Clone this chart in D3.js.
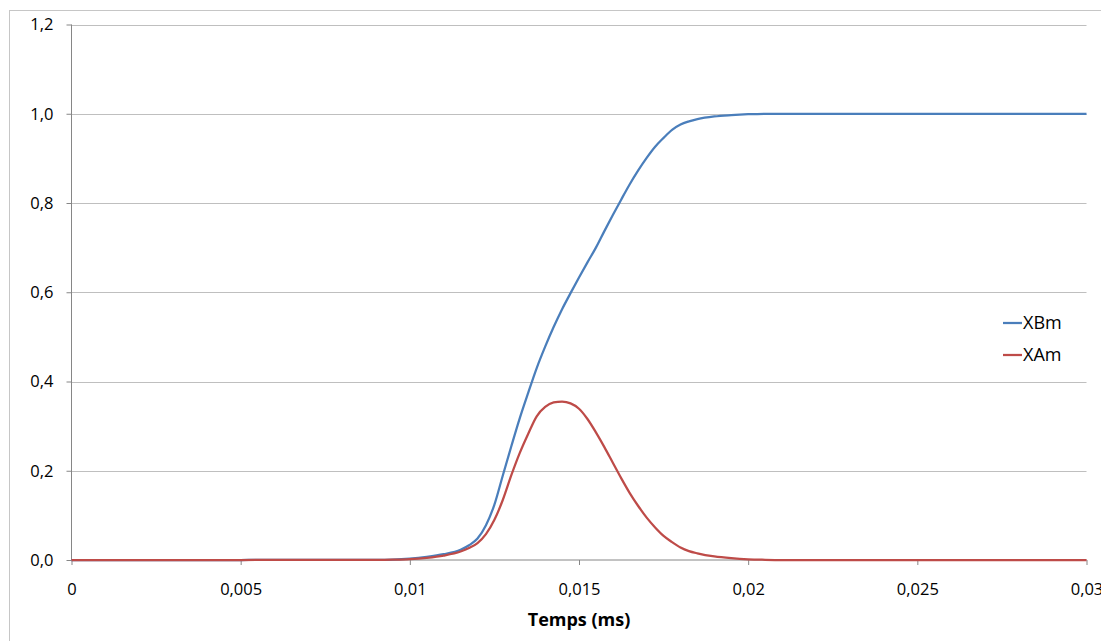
<!DOCTYPE html>
<html><head><meta charset="utf-8">
<script src="https://cdn.jsdelivr.net/npm/d3@7"></script>
<style>
html,body{margin:0;padding:0;background:#fff;overflow:hidden;}
text{font-family:"Open Sans",Lato,sans-serif;fill:#000;}
</style></head>
<body>
<svg id="chart" width="1101" height="641"></svg>
<script>
// Time (ms)
const times = [0, 0.005, 0.009, 0.0095, 0.010, 0.0105, 0.011, 0.0115, 0.01175, 0.012, 0.01225, 0.0125, 0.01275, 0.013, 0.01325, 0.0135, 0.01375, 0.014, 0.01425, 0.0145, 0.01475, 0.015, 0.01525, 0.0155, 0.01575, 0.016, 0.01625, 0.0165, 0.01675, 0.017, 0.01725, 0.0175, 0.01775, 0.018, 0.01825, 0.0185, 0.019, 0.0195, 0.020, 0.0205, 0.021, 0.025, 0.03];
const xBm = [0, 0, 0.0005, 0.001, 0.003, 0.007, 0.013, 0.023, 0.033, 0.048, 0.078, 0.124, 0.190, 0.255, 0.318, 0.375, 0.430, 0.478, 0.522, 0.562, 0.598, 0.633, 0.667, 0.700, 0.737, 0.773, 0.808, 0.842, 0.873, 0.901, 0.926, 0.946, 0.964, 0.976, 0.983, 0.988, 0.994, 0.997, 0.999, 1.0, 1.0, 1.0, 1.0];
const xAm = [0, 0, 0.0003, 0.0008, 0.002, 0.005, 0.010, 0.019, 0.027, 0.038, 0.058, 0.090, 0.135, 0.190, 0.240, 0.283, 0.322, 0.343, 0.353, 0.355, 0.351, 0.339, 0.316, 0.286, 0.253, 0.218, 0.183, 0.150, 0.121, 0.095, 0.073, 0.054, 0.040, 0.028, 0.020, 0.015, 0.008, 0.004, 0.0015, 0.0005, 0, 0, 0];
const seriesNames = ["XBm", "XAm"];
const seriesColors = ["#4a7ebb", "#be4b48"];
const xTicks = [0, 0.005, 0.01, 0.015, 0.02, 0.025, 0.03];
const xTickLabels = ["0", "0,005", "0,01", "0,015", "0,02", "0,025", "0,03"];
const yTicks = [0, 0.2, 0.4, 0.6, 0.8, 1.0, 1.2];
const yTickLabels = ["0,0", "0,2", "0,4", "0,6", "0,8", "1,0", "1,2"];
const xTitle = "Temps (ms)";

const svg = d3.select("#chart");
const L = 71.5, R = 1086.5, T = 24.5, B = 560;
const x = d3.scaleLinear().domain([0, 0.03]).range([L, R]);
const y = d3.scaleLinear().domain([0, 1.2]).range([B, T]);

// outer border
svg.append("rect").attr("x", 9.5).attr("y", 10.5).attr("width", 1200).attr("height", 1000)
  .attr("fill", "none").attr("stroke", "#c6c6c6").attr("stroke-width", 1);

// gridlines
svg.append("g").selectAll("line").data(yTicks.filter(d => d > 0)).join("line")
  .attr("x1", L).attr("x2", R)
  .attr("y1", d => Math.round(y(d)) + 0.5).attr("y2", d => Math.round(y(d)) + 0.5)
  .attr("stroke", "#bfbfbf").attr("stroke-width", 1);

// y axis
const yAxis = d3.axisLeft(y).tickValues(yTicks).tickFormat((d, i) => yTickLabels[i]).tickSize(5).tickPadding(13);
const gy = svg.append("g").attr("transform", `translate(${L},0)`).call(yAxis);
gy.select(".domain").attr("stroke", "#868686").attr("d", `M0,${T}V${B}`);
gy.selectAll(".tick line").attr("stroke", "#868686");
gy.selectAll(".tick text").attr("font-size", 16.5).attr("font-family", "Open Sans").attr("fill", "#000");

// x axis
const xAxis = d3.axisBottom(x).tickValues(xTicks).tickFormat((d, i) => xTickLabels[i]).tickSize(5).tickPadding(18);
const gx = svg.append("g").attr("transform", `translate(0,${B})`).call(xAxis);
gx.select(".domain").attr("stroke", "#868686").attr("d", `M${L},0H${R}`);
gx.selectAll(".tick line").attr("stroke", "#868686");
gx.selectAll(".tick text").attr("font-size", 16.5).attr("font-family", "Open Sans").attr("fill", "#000");

// x title
svg.append("text").attr("x", (L + R) / 2).attr("y", 626).attr("text-anchor", "middle")
  .attr("font-size", 18).attr("font-weight", "bold").text(xTitle);

// lines
const line = d3.line().x(d => x(d[0])).y(d => y(d[1])).curve(d3.curveMonotoneX);
const seriesData = [xBm, xAm];
seriesData.forEach((vals, i) => {
  svg.append("path").datum(times.map((t, j) => [t, vals[j]]))
    .attr("d", line).attr("fill", "none")
    .attr("stroke", seriesColors[i]).attr("stroke-width", 2.25).attr("stroke-linejoin", "round");
});

// legend
const lg = svg.append("g");
seriesNames.forEach((name, i) => {
  const ly = 323 + i * 32;
  lg.append("line").attr("x1", 1003).attr("x2", 1022).attr("y1", ly).attr("y2", ly)
    .attr("stroke", seriesColors[i]).attr("stroke-width", 2.25);
  lg.append("text").attr("x", 1023).attr("y", ly).attr("dy", "0.36em")
    .attr("font-size", 18).text(name);
});
</script>
</body></html>
